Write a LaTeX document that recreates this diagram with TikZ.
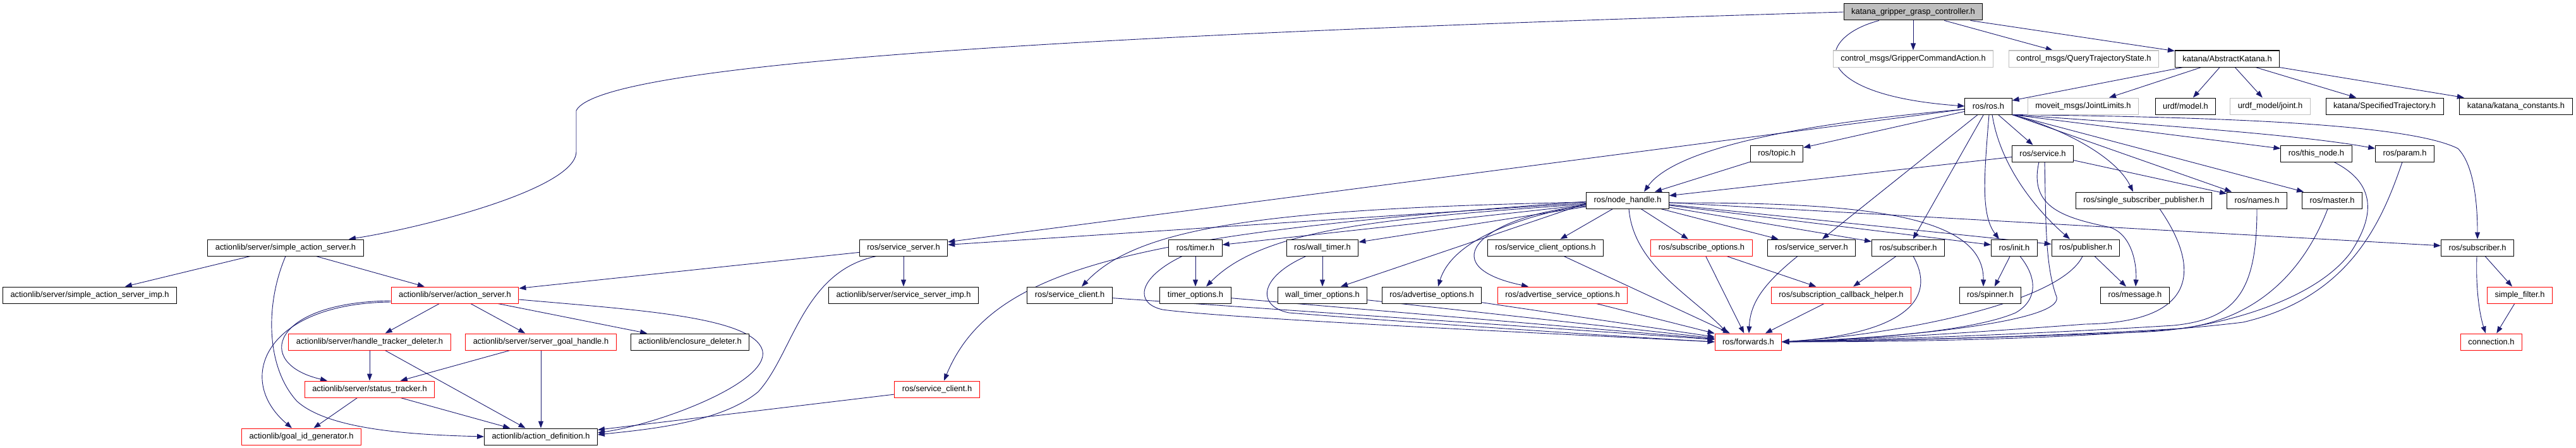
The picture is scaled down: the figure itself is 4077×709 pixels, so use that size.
\documentclass[tikz,border=0pt]{standalone}
\usepackage{fontspec}
\setmainfont{Liberation Sans}
\usepackage{xcolor}
\usepackage{tikz}
\usetikzlibrary{arrows.meta}

\definecolor{edgeblue}{RGB}{25,25,112}
\definecolor{greyline}{RGB}{191,191,191}
\pgfdeclarelayer{edges}
\pgfsetlayers{edges,main}

\begin{document}
\begin{tikzpicture}[
    x=1pt, y=-1pt,
    hdr/.style={rectangle, draw=black, line width=1pt, fill=white, minimum height=26pt, inner xsep=12pt, inner ysep=0pt, font=\fontsize{12.9}{15}\selectfont},
    redhdr/.style={hdr, draw=red},
    greyhdr/.style={hdr, draw=greyline},
    mainhdr/.style={hdr, fill=greyline},
    arrow/.style={-{Triangle[length=11pt, width=8pt]}, color=edgeblue, line width=0.9pt}
]
    \useasboundingbox (0,0) rectangle (4077,709);

    \node[mainhdr] (kggc) at (3028,19) {katana\_gripper\_grasp\_controller.h};

    \node[greyhdr] (gca) at (3028,93) {control\_msgs/GripperCommandAction.h};
    \node[greyhdr] (qts) at (3298,93) {control\_msgs/QueryTrajectoryState.h};
    \node[hdr] (ak) at (3525,93) {katana/AbstractKatana.h};

    \node[hdr] (ros) at (3147,168) {ros/ros.h};
    \node[greyhdr] (jl) at (3297,168) {moveit\_msgs/JointLimits.h};
    \node[hdr] (um) at (3459,168) {urdf/model.h};
    \node[greyhdr] (uj) at (3593,168) {urdf\_model/joint.h};
    \node[hdr] (spec) at (3774,168) {katana/SpecifiedTrajectory.h};
    \node[hdr] (kc) at (3982,168) {katana/katana\_constants.h};

    \node[hdr] (topic) at (2812,243) {ros/topic.h};
    \node[hdr] (srv) at (3233,243) {ros/service.h};
    \node[hdr] (tn) at (3666,243) {ros/this\_node.h};
    \node[hdr] (prm) at (3806,243) {ros/param.h};

    \node[hdr] (nh) at (2576,317) {ros/node\_handle.h};
    \node[hdr] (ssp) at (3393,317) {ros/single\_subscriber\_publisher.h};
    \node[hdr] (nam) at (3572,317) {ros/names.h};
    \node[hdr] (mst) at (3691,317) {ros/master.h};

    \node[hdr] (sas) at (452,392) {actionlib/server/simple\_action\_server.h};
    \node[hdr] (svsl) at (1430,392) {ros/service\_server.h};
    \node[hdr] (tmr) at (1892,392) {ros/timer.h};
    \node[hdr] (wtm) at (2093,392) {ros/wall\_timer.h};
    \node[hdr] (sco) at (2446,392) {ros/service\_client\_options.h};
    \node[redhdr] (sbo) at (2693,392) {ros/subscribe\_options.h};
    \node[hdr] (svsr) at (2867,392) {ros/service\_server.h};
    \node[hdr] (sub1) at (3020,392) {ros/subscriber.h};
    \node[hdr] (ini) at (3188,392) {ros/init.h};
    \node[hdr] (pub) at (3301,392) {ros/publisher.h};
    \node[hdr] (sub2) at (3921,392) {ros/subscriber.h};

    \node[hdr] (sasi) at (142,467) {actionlib/server/simple\_action\_server\_imp.h};
    \node[redhdr] (asrv) at (720,467) {actionlib/server/action\_server.h};
    \node[hdr] (ssi) at (1430,467) {actionlib/server/service\_server\_imp.h};
    \node[hdr] (scl) at (1693,467) {ros/service\_client.h};
    \node[hdr] (tmo) at (1892,467) {timer\_options.h};
    \node[hdr] (wto) at (2093,467) {wall\_timer\_options.h};
    \node[hdr] (ado) at (2266,467) {ros/advertise\_options.h};
    \node[redhdr] (aso) at (2473,467) {ros/advertise\_service\_options.h};
    \node[redhdr] (sch) at (2914,467) {ros/subscription\_callback\_helper.h};
    \node[hdr] (spn) at (3150,467) {ros/spinner.h};
    \node[hdr] (msg) at (3379,467) {ros/message.h};
    \node[redhdr] (sfl) at (3988,467) {simple\_filter.h};

    \node[redhdr] (htd) at (585,541) {actionlib/server/handle\_tracker\_deleter.h};
    \node[redhdr] (sgh) at (856,541) {actionlib/server/server\_goal\_handle.h};
    \node[hdr] (encl) at (1092,541) {actionlib/enclosure\_deleter.h};
    \node[redhdr] (fwd) at (2767,541) {ros/forwards.h};
    \node[redhdr] (conn) at (3943,541) {connection.h};

    \node[redhdr] (stt) at (585,616) {actionlib/server/status\_tracker.h};
    \node[redhdr] (sclr) at (1483,616) {ros/service\_client.h};

    \node[redhdr] (gid) at (477,691) {actionlib/goal\_id\_generator.h};
    \node[hdr] (adef) at (856,691) {actionlib/action\_definition.h};

    \begin{pgfonlayer}{edges}
    % main header
    \draw[arrow] (kggc.west) .. controls (1700,55) and (950,100) .. (912,175) -- (912,240) .. controls (912,300) and (660,362) .. ([xshift=100pt]sas.north);
    \draw[arrow] (kggc) -- (gca);
    \draw[arrow] (kggc) -- (qts);
    \draw[arrow] (kggc) -- (ak);
    \draw[arrow] ([xshift=-54pt]kggc.south) .. controls (2870,60) and (2860,150) .. (ros.west);

    \draw[arrow] (ak) -- ([yshift=9pt]ros.east);
    \draw[arrow] (ak) -- (jl);
    \draw[arrow] (ak) -- (um);
    \draw[arrow] (ak) -- (uj);
    \draw[arrow] (ak) -- (spec);
    \draw[arrow] (ak) -- (kc);

    % ros/ros.h
    \draw[arrow] (ros) -- (topic);
    \draw[arrow] ([yshift=-5pt]ros.west) .. controls (2850,195) and (2650,235) .. ([xshift=26pt]nh.north);
    \draw[arrow] (ros) -- (svsl);
    \draw[arrow] (ros) -- (svsr);
    \draw[arrow] (ros) -- (sub1);
    \draw[arrow] ([xshift=1pt]ros.south) .. controls (3140,280) and (3135,340) .. ([xshift=-24pt]ini.north);
    \draw[arrow] ([xshift=6pt]ros.south) .. controls (3165,260) and (3220,330) .. ([xshift=-25pt]pub.north);
    \draw[arrow] (ros) -- (srv);
    \draw[arrow] (ros.south east) .. controls (3270,205) and (3350,250) .. ([xshift=-17pt]ssp.north);
    \draw[arrow] (ros.south east) -- ([yshift=8pt]tn.west);
    \draw[arrow] (ros.south east) .. controls (3450,200) and (3650,215) .. ([yshift=8pt]prm.west);
    \draw[arrow] (ros.south east) -- ([xshift=-40pt]nam.north);
    \draw[arrow] (ros.south east) -- ([xshift=-45pt]mst.north);
    \draw[arrow] (ros.south east) .. controls (3500,185) and (3810,195) .. (3890,235) .. controls (3915,260) and (3921,320) .. (sub2.north);

    \draw[arrow] (topic) -- (nh);

    % ros/service.h
    \draw[arrow] (srv) -- (nh);
    \draw[arrow] (srv) -- (nam);
    \draw[arrow] ([xshift=-6pt]srv.south) .. controls (3210,330) and (3270,345) .. (3340,360) .. controls (3375,372) and (3382,420) .. ([xshift=1pt]msg.north);
    \draw[arrow] ([xshift=3pt]srv.south) .. controls (3238,340) and (3236,420) .. (3255,470) .. controls (3265,510) and (3000,535) .. (fwd.east);

    % ros/node_handle.h
    \draw[arrow] (nh) -- (svsl);
    \draw[arrow] (nh) -- (tmr);
    \draw[arrow] ([yshift=-3pt]nh.west) .. controls (2000,330) and (1800,360) .. ([xshift=19pt]scl.north);
    \draw[arrow] ([yshift=-6pt]nh.west) .. controls (2200,345) and (2000,360) .. ([xshift=17pt]tmo.north);
    \draw[arrow] ([yshift=-2pt]nh.west) .. controls (1800,370) and (1570,420) .. ([xshift=11pt]sclr.north);
    \draw[arrow] (nh) -- (wtm);
    \draw[arrow] ([yshift=-5pt]nh.west) -- ([xshift=29pt]wto.north);
    \draw[arrow] ([yshift=-7pt]nh.west) .. controls (2420,340) and (2300,375) .. ([xshift=10pt]ado.north);
    \draw[arrow] ([yshift=-9pt]nh.west) .. controls (2350,340) and (2260,420) .. ([xshift=-54pt]aso.north);
    \draw[arrow] (nh) -- (sco);
    \draw[arrow] (nh) -- (sbo);
    \draw[arrow] ([xshift=2pt]nh.south) .. controls (2585,420) and (2680,470) .. ([xshift=-33pt]fwd.north);
    \draw[arrow] (nh) -- (svsr);
    \draw[arrow] (nh) -- (sub1);
    \draw[arrow] (nh) -- (ini);
    \draw[arrow] ([yshift=-4pt]nh.east) .. controls (2950,320) and (3140,340) .. ([xshift=-11pt]spn.north);
    \draw[arrow] (nh) -- (pub);
    \draw[arrow] (nh) -- (sub2);

    % into ros/forwards.h
    \draw[arrow] (tmr) -- (tmo);
    \draw[arrow] ([xshift=-21pt]tmr.south) .. controls (1800,440) and (1795,480) .. (1840,490) .. controls (1950,505) and (2500,530) .. (fwd.west);
    \draw[arrow] (wtm) -- (wto);
    \draw[arrow] ([xshift=-26pt]wtm.south) .. controls (1990,440) and (1990,485) .. (2040,495) .. controls (2200,508) and (2550,532) .. (fwd.west);
    \draw[arrow] (scl) -- (fwd);
    \draw[arrow] (tmo) -- (fwd);
    \draw[arrow] (wto) -- (fwd);
    \draw[arrow] (ado) -- (fwd);
    \draw[arrow] (aso) -- (fwd);
    \draw[arrow] (sco) -- (fwd);
    \draw[arrow] (sbo) -- (fwd);
    \draw[arrow] (sbo) -- (sch);
    \draw[arrow] ([xshift=-22pt]svsr.south) .. controls (2790,450) and (2770,480) .. ([xshift=1pt]fwd.north);
    \draw[arrow] (sub1) -- (sch);
    \draw[arrow] ([xshift=8pt]sub1.south) .. controls (3070,480) and (3000,530) .. (fwd.east);
    \draw[arrow] (sch) -- (fwd);
    \draw[arrow] (ini) -- (spn);
    \draw[arrow] ([xshift=9pt]ini.south) .. controls (3225,440) and (3225,475) .. (3190,495) .. controls (3120,525) and (2950,537) .. (fwd.east);
    \draw[arrow] (pub) -- (msg);
    \draw[arrow] ([xshift=-5pt]pub.south) .. controls (3260,480) and (3000,530) .. (fwd.east);
    \draw[arrow] ([xshift=25pt]ssp.south) .. controls (3480,420) and (3485,510) .. (3300,513) .. controls (3100,528) and (2950,537) .. (fwd.east);
    \draw[arrow] (nam.south) .. controls (3572,460) and (3540,505) .. (3440,515) .. controls (3200,530) and (2950,538) .. (fwd.east);
    \draw[arrow] ([xshift=-7pt]mst.south) .. controls (3650,420) and (3580,505) .. (3450,520) .. controls (3200,535) and (2950,539) .. (fwd.east);
    \draw[arrow] ([xshift=28pt]tn.south) .. controls (3760,290) and (3760,340) .. (3720,400) .. controls (3660,480) and (3500,520) .. (3400,525) .. controls (3150,535) and (2950,540) .. (fwd.east);
    \draw[arrow] ([xshift=-4pt]prm.south) .. controls (3770,350) and (3720,470) .. (3550,510) .. controls (3300,540) and (2950,541) .. (fwd.east);

    \draw[arrow] (sub2) -- (sfl);
    \draw[arrow] ([xshift=-1pt]sub2.south) .. controls (3918,460) and (3925,500) .. ([xshift=-9pt]conn.north);
    \draw[arrow] (sfl) -- (conn);

    % actionlib
    \draw[arrow] (sas) -- (sasi);
    \draw[arrow] (sas) -- (asrv);
    \draw[arrow] (sas.south) .. controls (420,480) and (420,580) .. (470,635) .. controls (520,680) and (650,688) .. (adef.west);
    \draw[arrow] (asrv) -- (htd);
    \draw[arrow] (asrv) -- (sgh);
    \draw[arrow] (asrv) -- (encl);
    \draw[arrow] ([yshift=-7pt]asrv.east) .. controls (1000,490) and (1180,500) .. (1205,550) .. controls (1230,600) and (1050,670) .. ([yshift=6pt]adef.east);
    \draw[arrow] ([yshift=-9pt]asrv.west) .. controls (430,478) and (400,575) .. ([xshift=-67pt]stt.north);
    \draw[arrow] ([yshift=-11pt]asrv.west) .. controls (420,480) and (370,600) .. ([xshift=-15pt]gid.north);
    \draw[arrow] (htd) -- (stt);
    \draw[arrow] (htd) -- (adef);
    \draw[arrow] (sgh) -- (stt);
    \draw[arrow] (sgh) -- (adef);
    \draw[arrow] (stt) -- (gid);
    \draw[arrow] (stt) -- (adef);
    \draw[arrow] (svsl) -- (asrv);
    \draw[arrow] (svsl) -- (ssi);
    \draw[arrow] ([xshift=-43pt]svsl.south) .. controls (1270,430) and (1255,560) .. (1200,620) .. controls (1140,670) and (1020,680) .. ([yshift=3pt]adef.east);
    \draw[arrow] (sclr) -- (adef);
    \end{pgfonlayer}
\end{tikzpicture}
\end{document}
